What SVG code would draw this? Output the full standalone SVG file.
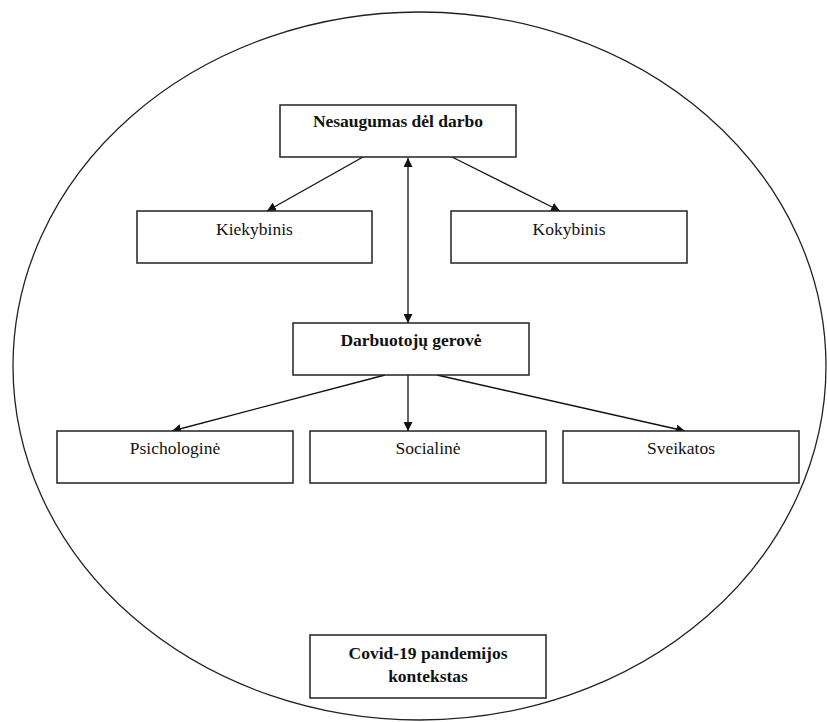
<svg xmlns="http://www.w3.org/2000/svg" width="827" height="722" viewBox="0 0 827 722">
<style>
.box{fill:#fff;stroke:#222;stroke-width:1.5}
.t{font-family:'Liberation Serif','Times New Roman',serif;font-size:17.5px;fill:#111;text-anchor:middle}
.b{font-weight:bold}
.c{stroke:#111;stroke-width:1.3;fill:none}
</style>
<defs>
<marker id="ah" viewBox="0 0 10 10" refX="10" refY="5" markerWidth="9" markerHeight="9" markerUnits="userSpaceOnUse" orient="auto-start-reverse">
<path d="M0,0 L10,5 L0,10 z" fill="#111"/>
</marker>
</defs>
<rect width="827" height="722" fill="#fff"/>
<ellipse id="context" cx="419.5" cy="366" rx="406.5" ry="354" fill="none" stroke="#222" stroke-width="1.3"/>
<g id="connectors">
<line class="c" x1="363" y1="157" x2="267" y2="211" marker-end="url(#ah)"/>
<line class="c" x1="452" y1="157" x2="560" y2="211" marker-end="url(#ah)"/>
<line class="c" x1="408" y1="158" x2="408" y2="323" marker-start="url(#ah)" marker-end="url(#ah)"/>
<line class="c" x1="385" y1="375" x2="172" y2="431" marker-end="url(#ah)"/>
<line class="c" x1="408" y1="375" x2="408" y2="431" marker-end="url(#ah)"/>
<line class="c" x1="437" y1="375" x2="685" y2="431" marker-end="url(#ah)"/>
</g>
<g id="nesaugumas">
<rect class="box" x="280" y="105" width="236" height="52"/>
<text class="t b" x="398" y="127">Nesaugumas dėl darbo</text>
</g>
<g id="kiekybinis">
<rect class="box" x="137" y="211" width="235" height="52"/>
<text class="t" x="254.5" y="235">Kiekybinis</text>
</g>
<g id="kokybinis">
<rect class="box" x="451" y="211" width="236" height="52"/>
<text class="t" x="569" y="235">Kokybinis</text>
</g>
<g id="darbuotoju">
<rect class="box" x="293" y="323" width="236" height="52"/>
<text class="t b" x="411" y="346">Darbuotojų gerovė</text>
</g>
<g id="psichologine">
<rect class="box" x="57" y="431" width="236" height="52"/>
<text class="t" x="175" y="454">Psichologinė</text>
</g>
<g id="socialine">
<rect class="box" x="310" y="431" width="236" height="52"/>
<text class="t" x="428" y="454">Socialinė</text>
</g>
<g id="sveikatos">
<rect class="box" x="563" y="431" width="236" height="52"/>
<text class="t" x="681" y="454">Sveikatos</text>
</g>
<g id="covid">
<rect class="box" x="310" y="635" width="236" height="63"/>
<text class="t b" x="428" y="659">Covid-19 pandemijos</text>
<text class="t b" x="428" y="682">kontekstas</text>
</g>
</svg>
